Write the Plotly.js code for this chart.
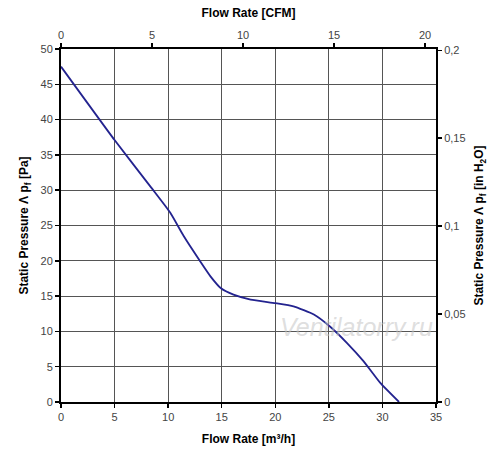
<!DOCTYPE html>
<html>
<head>
<meta charset="utf-8">
<script src="https://cdn.plot.ly/plotly-3.0.1.min.js"></script>
<style>html,body{margin:0;padding:0;background:#fff;}#chart{width:500px;height:452px;}</style>
</head>
<body>
<div id="chart"></div>
<script>
// Flow rate [m³/h]
var flowM3h = [0, 5, 8.35, 10.2, 11.45, 13, 13.95, 14.9, 16.1, 17.7, 20, 21.7, 23.6, 25.1, 26.7, 28.25, 29.8, 31.55];
// Static pressure [Pa]
var pressurePa = [47.5, 37.1, 30.5, 26.8, 23.5, 19.9, 17.8, 16.15, 15.2, 14.5, 14.0, 13.55, 12.4, 10.7, 8.35, 5.75, 2.7, 0];

var M3H_PER_CFM = 1.699;
var PA_PER_INH2O = 249.09;
var flowMax = 35, paMax = 50;

var flowCFM = flowM3h.map(function (v) { return v / M3H_PER_CFM; });
var pressureInH2O = pressurePa.map(function (v) { return v / PA_PER_INH2O; });

var tickFont = {family: 'Liberation Sans, Arial, sans-serif', size: 11, color: '#444'};
var titleFont = {family: 'Liberation Sans, Arial, sans-serif', size: 12, color: '#000', weight: 'bold'};

var traces = [{
  x: flowM3h, y: pressurePa, type: 'scatter', mode: 'lines',
  line: {color: '#23238f', width: 1.8, shape: 'spline', smoothing: 0.5},
  xaxis: 'x', yaxis: 'y', hoverinfo: 'skip'
}, {
  // same curve in CFM / in H2O units (transparent, anchors secondary axes)
  x: flowCFM, y: pressureInH2O, type: 'scatter', mode: 'lines',
  line: {color: '#23238f', width: 1}, opacity: 0,
  xaxis: 'x2', yaxis: 'y2', hoverinfo: 'skip'
}];

var axBase = {
  ticks: 'outside', ticklen: 4, tickwidth: 1.5, tickcolor: '#000',
  showline: true, linecolor: '#000', linewidth: 2,
  zeroline: false, tickfont: tickFont, fixedrange: true
};

var layout = {
  width: 500, height: 452,
  margin: {l: 60.5, r: 64.3, t: 49.3, b: 49.7},
  paper_bgcolor: '#fff', plot_bgcolor: '#fff',
  separators: ',.',
  showlegend: false,
  xaxis: Object.assign({}, axBase, {
    range: [0, flowMax], dtick: 5, tick0: 0,
    showgrid: true, gridcolor: '#555', gridwidth: 1,
    title: {text: 'Flow Rate [m³/h]', font: titleFont, standoff: 12}
  }),
  xaxis2: Object.assign({}, axBase, {
    range: [0, flowMax / M3H_PER_CFM], dtick: 5, tick0: 0,
    overlaying: 'x', side: 'top', showgrid: false,
    title: {text: 'Flow Rate [CFM]', font: titleFont, standoff: 8}
  }),
  yaxis: Object.assign({}, axBase, {
    range: [0, paMax], dtick: 5, tick0: 0,
    showgrid: true, gridcolor: '#555', gridwidth: 1,
    title: {text: 'Static Pressure Λ p<sub>f</sub> [Pa]', font: titleFont, standoff: 9}
  }),
  yaxis2: Object.assign({}, axBase, {
    range: [0, paMax / PA_PER_INH2O], dtick: 0.05, tick0: 0,
    overlaying: 'y', side: 'right', showgrid: false,
    title: {text: 'Static Pressure Λ p<sub>f</sub> [in H<sub>2</sub>O]', font: titleFont, standoff: 10}
  }),
  annotations: [{
    xref: 'paper', yref: 'paper', x: 0.788, y: 0.213, xanchor: 'center', yanchor: 'middle',
    text: 'Ventilatorry.ru', showarrow: false,
    font: {family: 'Liberation Sans, Arial, sans-serif', size: 25, color: 'rgba(195,195,195,0.55)', style: 'italic'}
  }]
};

Plotly.newPlot('chart', traces, layout, {displayModeBar: false, staticPlot: true});
</script>
</body>
</html>
